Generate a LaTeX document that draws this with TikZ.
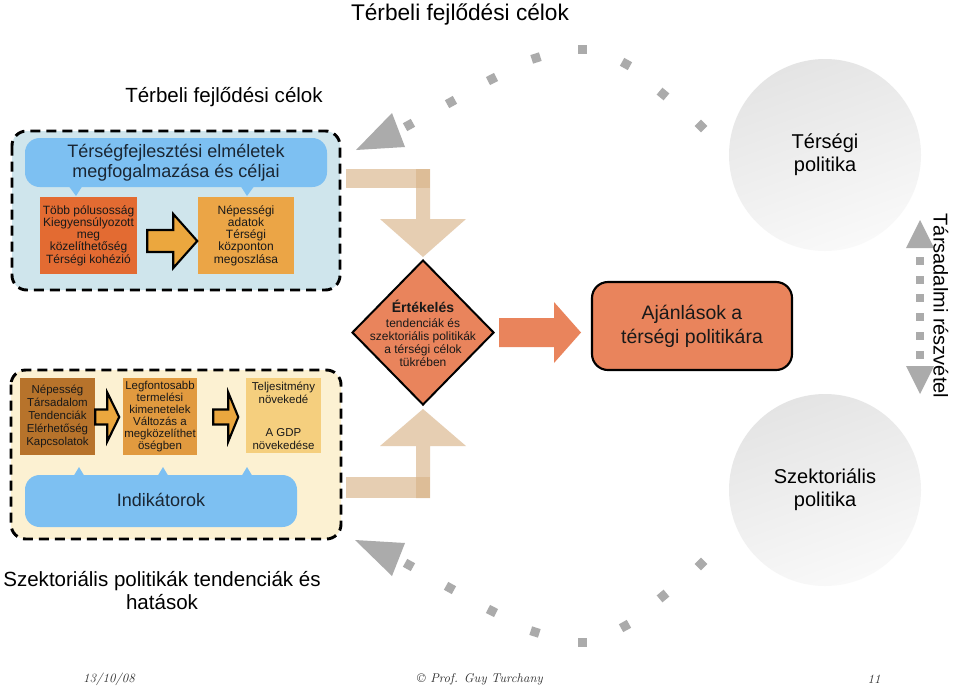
\documentclass[tikz,border=0pt]{standalone}
\usepackage{fontspec}
\setsansfont{Liberation Sans}
\usetikzlibrary{shapes.geometric,calc}
\definecolor{cBoxBlue}{HTML}{CFE5EC}
\definecolor{cBubble}{HTML}{7DC0F2}
\definecolor{cText}{HTML}{1A2633}
\definecolor{cODark}{HTML}{E36B32}
\definecolor{cOMid}{HTML}{EBA546}
\definecolor{cArrow}{HTML}{EBA73E}
\definecolor{cCream}{HTML}{FCF1D2}
\definecolor{cBrownBox}{HTML}{B7732B}
\definecolor{cOB}{HTML}{E19A3F}
\definecolor{cOC}{HTML}{F5CF7E}
\definecolor{cTan}{HTML}{D9B48A}
\definecolor{cSalmon}{HTML}{E9845C}
\definecolor{cDot}{HTML}{ABABAB}
\definecolor{cCircTop}{HTML}{E4E4E4}
\definecolor{cCircBot}{HTML}{F9F9F9}
\newcommand{\myfs}[2]{\sffamily\fontsize{#1}{#2}\selectfont}
\begin{document}
\begin{tikzpicture}[x=0.75pt,y=-0.75pt,
  dashbox/.style={draw=black,line width=2.2pt,dash pattern=on 7.5pt off 4.5pt,rounded corners=11pt},
  bubblefill/.style={fill=cBubble,rounded corners=11pt},
  infobox/.style={rectangle,inner sep=0pt,align=center,text=black!90},
  blockarrow/.style={draw=black,line width=1.6pt,fill=cArrow,line join=miter},
  tanshape/.style={fill=cTan,fill opacity=0.65},
  dotsq/.style={rectangle,fill=cDot,minimum size=6.75pt,inner sep=0pt},
  policy/.style={circle,minimum size=144pt,inner sep=0pt,top color=cCircTop,bottom color=cCircBot,shading angle=20,align=center,font=\myfs{15pt}{17.25pt}},
  foot/.style={font=\rmfamily\itshape\fontsize{9.5pt}{11pt}\selectfont,text=black!80}
]
\useasboundingbox (0,0) rectangle (959,690);
\fill[white] (0,0) rectangle (959,690);

% titles
\node[font=\myfs{17pt}{20pt},anchor=base] (title) at (460,20) {Térbeli fejlődési célok};
\node[font=\myfs{15.4pt}{18pt},anchor=base] (sub) at (224,102) {Térbeli fejlődési célok};
\node[font=\myfs{15.4pt}{17.25pt},align=center] (cap) at (162,591) {Szektoriális politikák tendenciák és\\hatások};

% top group
\path[dashbox,fill=cBoxBlue] (12,131) rectangle (340,290);
\path[bubblefill] (25,138) rectangle (327,187);
\fill[cBubble] (68,185) -- (83,185) -- (76,196) -- cycle;
\fill[cBubble] (240,185) -- (255,185) -- (247,196) -- cycle;
\node[align=center,font=\myfs{13.5pt}{15pt},text=cText] (theory) at (176,163) {Térségfejlesztési elméletek\\megfogalmazása és céljai};
\node[infobox,fill=cODark,minimum width=72.75pt,minimum height=57.75pt,font=\myfs{9pt}{9.2pt}] (b1) at (88.5,235.5) {Több pólusosság\\Kiegyensúlyozott\\meg\\közelíthetőség\\Térségi kohézió};
\node[infobox,fill=cOMid,minimum width=72pt,minimum height=57.75pt,font=\myfs{9pt}{9.2pt}] (b2) at (246,235.5) {Népességi\\adatok\\Térségi\\központon\\megoszlása};
\coordinate (ta) at ($(b1.east)+(10,5.5)$);
\draw[blockarrow,shift={(ta)}] (0,-11) -- (26,-11) -- (26,-27) -- (50,0) -- (26,27) -- (26,11) -- (0,11) -- cycle;

% bottom group
\path[dashbox,fill=cCream] (11,370) rectangle (341,539);
\node[infobox,fill=cBrownBox,minimum width=56.25pt,minimum height=57.75pt,font=\myfs{8.6pt}{9.75pt}] (ba) at (57.5,416.5) {Népesség\\Társadalom\\Tendenciák\\Elérhetőség\\Kapcsolatok};
\node[infobox,fill=cOB,minimum width=55.5pt,minimum height=57.75pt,font=\myfs{8.6pt}{9pt}] (bb) at (160,416.5) {Legfontosabb\\termelési\\kimenetelek\\Változás a\\megközelíthet\\öségben};
\node[infobox,fill=cOC,minimum width=56.25pt,minimum height=56.25pt,font=\myfs{8.6pt}{10pt}] (bc) at (283.5,415.5) {Teljesitmény\\növekedé\\[14.5pt]A GDP\\növekedése};
\coordinate (ba1) at ($(ba.east)+(0,0.5)$);
\draw[blockarrow,shift={(ba1)}] (0,-7.5) -- (12,-7.5) -- (12,-24.5) -- (24,0) -- (12,24.5) -- (12,7.5) -- (0,7.5) -- cycle;
\coordinate (ba2) at ($(bb.east)+(16,0.5)$);
\draw[blockarrow,shift={(ba2)}] (0,-7.5) -- (15,-7.5) -- (15,-24.5) -- (25,0) -- (15,24.5) -- (15,7.5) -- (0,7.5) -- cycle;
\path[bubblefill] (25,475) rectangle (297,527);
\fill[cBubble] (73,477) -- (85,477) -- (79,467) -- cycle;
\fill[cBubble] (157,477) -- (169,477) -- (163,467) -- cycle;
\fill[cBubble] (241,477) -- (253,477) -- (247,467) -- cycle;
\node[font=\myfs{13.5pt}{15pt},text=cText] (ind) at (161,500) {Indikátorok};

% evaluation diamond
\node[diamond,draw=black,line width=1.5pt,fill=cSalmon,minimum width=106.5pt,minimum height=108.75pt,inner sep=0pt] (eval) at (423,332.5) {};
\node[align=center,font=\myfs{9pt}{9.75pt},text=black!90] (evalT) at (423,333) {{\bfseries\fontsize{10.5pt}{12pt}\selectfont Értékelés}\\[1.5pt]tendenciák és\\szektoriális politikák\\a térségi célok\\tükrében};

% tan arrows into the diamond
\coordinate (tt) at ($(eval.north)+(0,-2)$);
\begin{scope}[shift={(tt)}]
  \fill[tanshape] (-77,-88) rectangle (7,-69);
  \fill[tanshape] (-7,-88) -- (7,-88) -- (7,-38) -- (43,-38) -- (0,0) -- (-43,-38) -- (-7,-38) -- cycle;
\end{scope}
\coordinate (tb) at ($(eval.south)+(0,3)$);
\begin{scope}[shift={(tb)}]
  \fill[tanshape] (-77,68) rectangle (7,89);
  \fill[tanshape] (-7,89) -- (7,89) -- (7,37) -- (43,37) -- (0,0) -- (-43,37) -- (-7,37) -- cycle;
\end{scope}

% orange arrow to recommendations
\coordinate (oa) at ($(eval.east)+(4,0)$);
\fill[cSalmon,shift={(oa)}] (0,-14.5) -- (55,-14.5) -- (55,-30.5) -- (82,0) -- (55,30.5) -- (55,14.5) -- (0,14.5) -- cycle;
\node[draw=black,line width=1.6pt,fill=cSalmon,rounded corners=12pt,minimum width=150pt,minimum height=66pt,align=center,font=\myfs{14.6pt}{18pt},text=black!90] (ajan) at (692,326) {Ajánlások a\\térségi politikára};

% policy circles
\node[policy] (tp) at (825,155) {Térségi\\politika};
\node[policy] (sp) at (825,490) {Szektoriális\\politika};

% dotted cycle arcs
\foreach \px/\py/\r in {409/125/29,451/102/29,492/79/27,536/58/18,582/49/0,626/64/-29,663/94/-40,701/126/-45,
                        409/565/-29,450/588/-29,492/611/-27,535/632/-18,582/642/0,625/626/29,663/596/40,701/564/45}
  \node[dotsq,rotate=\r] at (\px,\py) {};
\fill[cDot] (356,150) -- (392,113) -- (405,147) -- cycle;
\fill[cDot] (355,540) -- (405,543) -- (392,576) -- cycle;

% social participation double arrow
\fill[cDot] (920,220) -- (934,248) -- (906,248) -- cycle;
\fill[cDot] (920,394) -- (934,366) -- (906,366) -- cycle;
\foreach \py in {261,280,298,317,336,355}
  \node[dotsq,minimum size=6pt] at (920,\py) {};
\node[rotate=-90,font=\myfs{15pt}{18pt}] (part) at (941,306) {Társadalmi részvétel};

% footer
\node[foot] (date) at (109,679) {13/10/08};
\node[foot] (copy) at (480,679) {© Prof. Guy Turchany};
\node[foot] (page) at (874,679) {11};
\end{tikzpicture}
\end{document}
